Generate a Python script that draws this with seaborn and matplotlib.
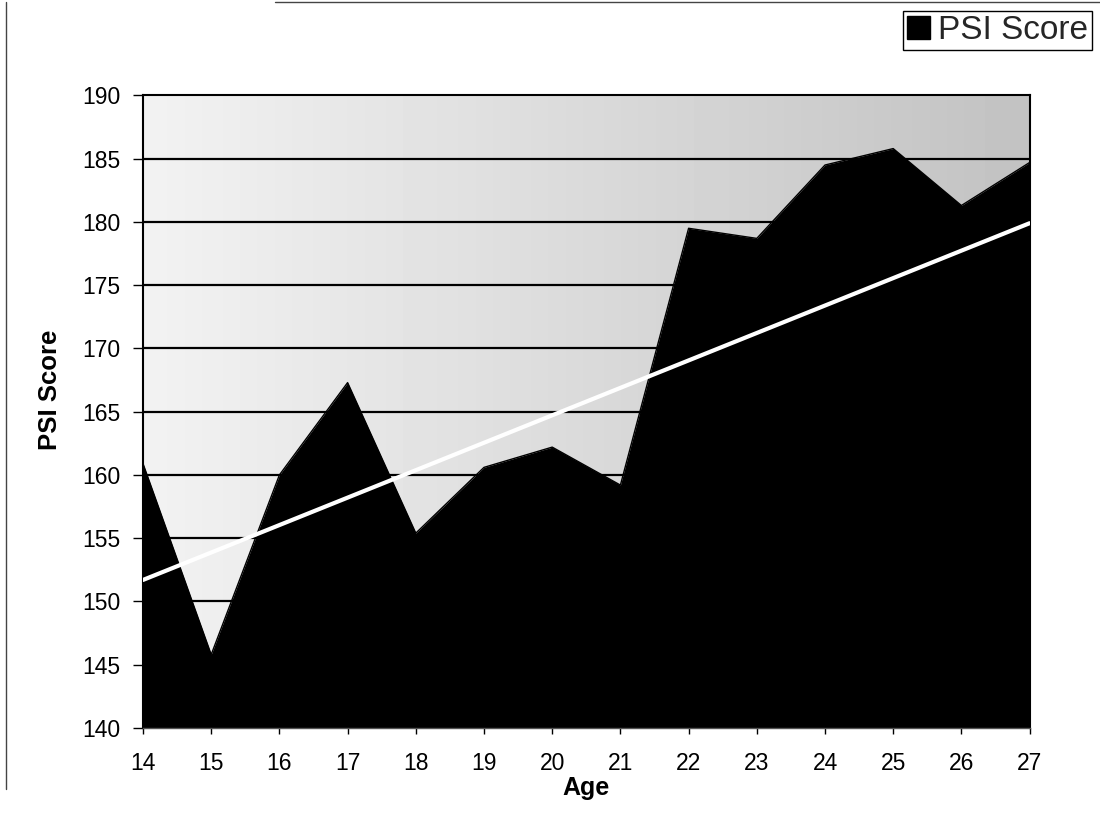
import numpy as np
import pandas as pd
import matplotlib
matplotlib.use("Agg")
import matplotlib.pyplot as plt
from matplotlib.patches import Patch
from matplotlib.lines import Line2D
import seaborn as sns

ages = [14, 15, 16, 17, 18, 19, 20, 21, 22, 23, 24, 25, 26, 27]
psi_score = [160.9, 145.8, 160.0, 167.3, 155.4, 160.6, 162.2, 159.2,
             179.5, 178.7, 184.5, 185.8, 181.3, 184.7]

# linear trend, end points
trend_ages = [14, 27]
trend_values = [151.7, 179.9]

y_ticks = [140, 145, 150, 155, 160, 165, 170, 175, 180, 185, 190]

df = pd.DataFrame({"Age": ages, "PSI Score": psi_score})
trend_df = pd.DataFrame({"Age": trend_ages, "Trend": trend_values})

sns.set_theme(style="white")
plt.rcParams["font.family"] = ["Liberation Sans", "DejaVu Sans"]

fig = plt.figure(figsize=(11, 8.13), dpi=100)
ax = fig.add_axes([0.13, 0.1046, 0.806, 0.778])

# speckled grey background -> smooth gradient, light at left, darker at right
grad = np.linspace(0.95, 0.76, 256)[None, :]
ax.imshow(grad, extent=[14, 27, 140, 190], aspect="auto", cmap="gray",
          vmin=0, vmax=1, zorder=0)

for y in y_ticks[1:-1]:
    ax.axhline(y, color="black", lw=1.6, zorder=1)

ax.fill_between(df["Age"], df["PSI Score"], 140, color="black", lw=0, zorder=2)
sns.lineplot(data=df, x="Age", y="PSI Score", ax=ax, color="black", lw=1,
             zorder=3, legend=False)
sns.lineplot(data=trend_df, x="Age", y="Trend", ax=ax, color="white", lw=3,
             zorder=4, legend=False)

ax.set_xlim(14, 27)
ax.set_ylim(140, 190)
ax.set_xticks(ages)
ax.set_yticks(y_ticks)
ax.tick_params(axis="y", direction="out", length=7, width=1, color="black",
               labelsize=16.5, labelcolor="black", pad=9, left=True)
ax.tick_params(axis="x", direction="out", length=4, width=1, color="black",
               labelsize=16.5, labelcolor="black", pad=13, bottom=True)
for side in ["left", "top", "right"]:
    ax.spines[side].set_color("black")
    ax.spines[side].set_linewidth(1.5)
ax.spines["bottom"].set_color("#555555")
ax.spines["bottom"].set_linewidth(1)

ax.set_xlabel("Age", fontsize=18, fontweight="bold", color="black", labelpad=1)
ax.set_ylabel("PSI Score", fontsize=18.5, fontweight="bold", color="black")
ax.yaxis.set_label_coords(-0.091, 0.534)

fig.legend(handles=[Patch(facecolor="black", edgecolor="black", label="PSI Score")],
           loc="upper right", bbox_to_anchor=(0.993, 0.986), fontsize=24,
           frameon=True, fancybox=False, edgecolor="black", framealpha=1,
           handlelength=0.7, handleheight=0.7, handletextpad=0.25,
           borderpad=0.12, borderaxespad=0)

# outer frame of the chart area
fig.add_artist(Line2D([0.005, 0.005], [0.03, 0.997], color="#444444", lw=1))
fig.add_artist(Line2D([0.25, 1.0], [0.997, 0.997], color="#444444", lw=1))

fig.savefig("out.png", dpi=100)
